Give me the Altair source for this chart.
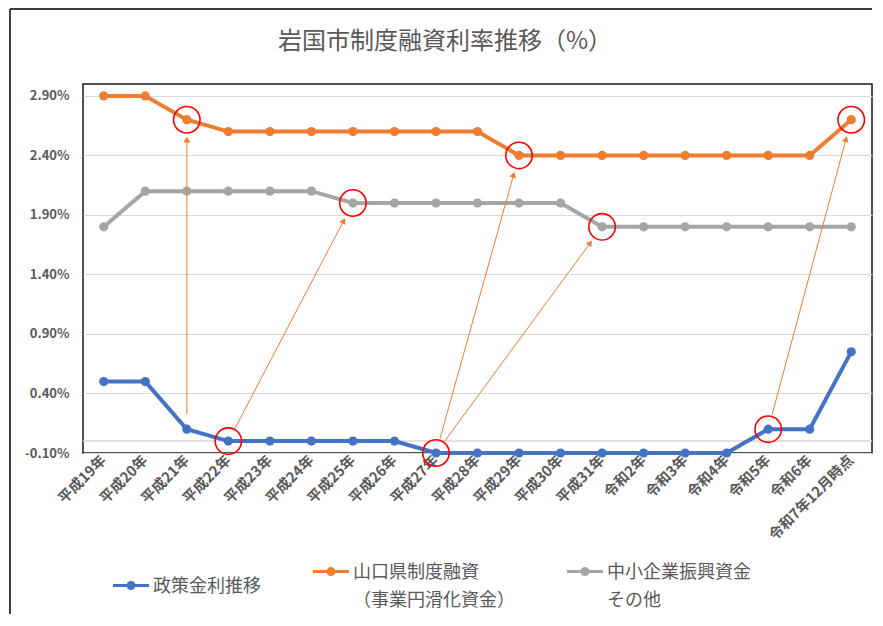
import math
import altair as alt
import pandas as pd

# ---------------- data ----------------
categories = ["平成19年", "平成20年", "平成21年", "平成22年", "平成23年", "平成24年",
              "平成25年", "平成26年", "平成27年", "平成28年", "平成29年", "平成30年",
              "平成31年", "令和2年", "令和3年", "令和4年", "令和5年", "令和6年",
              "令和7年12月時点"]
policy_rate = [0.5, 0.5, 0.1, 0.0, 0.0, 0.0, 0.0, 0.0, -0.1, -0.1,
               -0.1, -0.1, -0.1, -0.1, -0.1, -0.1, 0.1, 0.1, 0.75]
yamaguchi_rate = [2.9, 2.9, 2.7, 2.6, 2.6, 2.6, 2.6, 2.6, 2.6, 2.6,
                  2.4, 2.4, 2.4, 2.4, 2.4, 2.4, 2.4, 2.4, 2.7]
chusho_rate = [1.8, 2.1, 2.1, 2.1, 2.1, 2.1, 2.0, 2.0, 2.0, 2.0,
               2.0, 2.0, 1.8, 1.8, 1.8, 1.8, 1.8, 1.8, 1.8]
series_names = ["政策金利推移", "山口県制度融資|（事業円滑化資金）", "中小企業振興資金|その他"]
series_colors = ["#4472C4", "#ED7D31", "#A5A5A5"]
y_ticks = [-0.1, 0.4, 0.9, 1.4, 1.9, 2.4, 2.9]
zero_line = [0.0]
title_text = ["岩国市制度融資利率推移（%）"]
# highlighted points: (category index, series index)
highlights = [(2, 1), (3, 0), (6, 2), (8, 0), (10, 1), (12, 2), (16, 0), (18, 1)]
# arrows: from (category, series) to (category, series)
arrows = [((2, 0), (2, 1)), ((3, 0), (6, 2)), ((8, 0), (10, 1)),
          ((8, 0), (12, 2)), ((16, 0), (18, 1))]

# ---------------- layout ----------------
W, H = 789, 369
YMIN, YMAX = -0.1, 3.0
TEXT = "#595959"
FONT = "Noto Sans CJK JP"
ORANGE = "#ED7D31"

values = [policy_rate, yamaguchi_rate, chusho_rate]

rows = []
for s, vals in enumerate(values):
    for i, v in enumerate(vals):
        rows.append({"idx": i, "value": v, "series": series_names[s]})
df = pd.DataFrame(rows)

hl_df = pd.DataFrame([{"idx": i, "value": values[s][i]} for i, s in highlights])

# arrow geometry (shortened so it starts / ends at the circle edges)
XPX = W / len(categories)
YPX = H / (YMAX - YMIN)
arrow_rows, head_rows = [], []
for (i0, s0), (i1, s1) in arrows:
    px0, py0 = i0 * XPX, -values[s0][i0] * YPX
    px1, py1 = i1 * XPX, -values[s1][i1] * YPX
    d = math.hypot(px1 - px0, py1 - py0)
    ux, uy = (px1 - px0) / d, (py1 - py0) / d
    sx, sy = px0 + ux * 15, py0 + uy * 15
    ex, ey = px1 - ux * 19, py1 - uy * 19
    hx, hy = px1 - ux * 20, py1 - uy * 20
    arrow_rows.append({"x0": sx / XPX, "y0": -sy / YPX, "x1": ex / XPX, "y1": -ey / YPX})
    ang = math.degrees(math.atan2(ux, -uy)) % 360
    head_rows.append({"idx": hx / XPX, "value": -hy / YPX, "angle": ang})
arrow_df = pd.DataFrame(arrow_rows)
head_df = pd.DataFrame(head_rows)

label_array = "[" + ",".join("'" + c + "'" for c in categories) + "]"

x_enc = alt.X("idx:Q",
              scale=alt.Scale(domain=[-0.5, len(categories) - 0.5], nice=False, zero=False),
              axis=alt.Axis(values=list(range(len(categories))),
                            labelExpr=label_array + "[datum.value]",
                            labelAngle=315, labelAlign="right", labelBaseline="middle",
                            labelPadding=5, ticks=False, domain=False, grid=False,
                            labelFont=FONT, labelFontSize=14.5, labelFontWeight="bold",
                            labelColor=TEXT, labelOverlap=False, title=None))
y_enc = alt.Y("value:Q",
              scale=alt.Scale(domain=[YMIN, YMAX], nice=False, zero=False),
              axis=alt.Axis(values=y_ticks,
                            labelExpr="replace(format(datum.value, '.2f'), '\u2212', '-') + '%'",
                            ticks=False, domain=False, grid=True, gridColor="#D9D9D9",
                            gridWidth=1, labelPadding=14, labelFont=FONT,
                            labelFontSize=13, labelFontWeight="bold", labelColor=TEXT,
                            title=None))

color_scale = alt.Scale(domain=series_names, range=series_colors)

# legend glyph: line with a dot, raised to sit on the first label line
legend_symbol = ("M-1,-0.445H-0.2V-0.275H-1Z"
                 "M0.2,-0.445H1V-0.275H0.2Z"
                 "M0.25,-0.36A0.25,0.25,0,1,1,-0.25,-0.36A0.25,0.25,0,1,1,0.25,-0.36Z")

zero = alt.Chart(pd.DataFrame({"value": zero_line})).mark_rule(
    color="#D9D9D9", strokeWidth=1.5).encode(y=alt.Y("value:Q"))

line_layers = [
    alt.Chart(df[df["series"] == name]).mark_line(strokeWidth=4, color=col).encode(
        x=x_enc, y=y_enc)
    for name, col in zip(series_names, series_colors)
]

points = alt.Chart(df).mark_point(filled=True, size=85, opacity=1).encode(
    x=x_enc, y=y_enc,
    color=alt.Color("series:N", scale=color_scale,
                    legend=alt.Legend(orient="none", legendX=30, legendY=476,
                                      direction="horizontal", title=None,
                                      labelExpr="split(datum.label, '|')",
                                      labelFont=FONT, labelFontSize=18,
                                      labelColor=TEXT, labelLimit=400,
                                      labelBaseline="alphabetic",
                                      symbolType=legend_symbol, symbolSize=1296,
                                      symbolStrokeWidth=0, symbolOpacity=1,
                                      columnPadding=52, labelOffset=4)))

arrow_lines = alt.Chart(arrow_df).mark_rule(color=ORANGE, strokeWidth=1).encode(
    x=alt.X("x0:Q"), y=alt.Y("y0:Q"), x2="x1:Q", y2="y1:Q")

arrow_heads = alt.Chart(head_df).mark_point(
    shape="triangle-up", filled=True, size=45, color=ORANGE, opacity=1).encode(
    x=alt.X("idx:Q"), y=alt.Y("value:Q"), angle=alt.Angle("angle:Q", scale=None))

circles = alt.Chart(hl_df).mark_point(
    shape="circle", filled=False, size=700, color="#FF0000", strokeWidth=1.6,
    opacity=1).encode(x=alt.X("idx:Q"), y=alt.Y("value:Q"))

title = alt.Chart(pd.DataFrame({"t": title_text})).mark_text(
    font=FONT, fontSize=24, color=TEXT, align="center", baseline="middle").encode(
    text="t:N", x=alt.value(362), y=alt.value(-42))

one = pd.DataFrame({"k": [0]})
border_left = alt.Chart(one).mark_rule(color="#000000", strokeWidth=1.5).encode(
    x=alt.value(-73), y=alt.value(-75), y2=alt.value(530))
border_top = alt.Chart(one).mark_rule(color="#000000", strokeWidth=1.5).encode(
    x=alt.value(-73), x2=alt.value(789), y=alt.value(-75))

chart = alt.layer(
    zero, *line_layers, points, arrow_lines, arrow_heads, circles, title,
    border_left, border_top
).properties(
    width=W, height=H,
    padding={"left": 1, "top": 0, "right": 0, "bottom": 0},
).configure(
    view=alt.ViewConfig(stroke="#1A1A1A", strokeWidth=1.5),
    style={"guide-label": {"lineHeight": 28}},
)

chart.save("out.html", embed_options={"renderer": "svg", "actions": False})
